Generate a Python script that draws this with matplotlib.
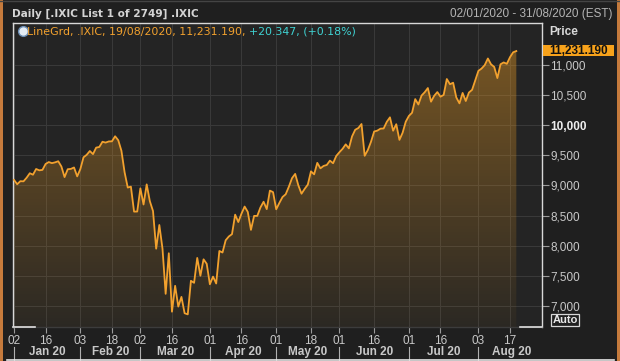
import numpy as np
import pandas as pd
import matplotlib
matplotlib.use("Agg")
import matplotlib.pyplot as plt
import matplotlib.transforms as mtransforms
from matplotlib.lines import Line2D
from matplotlib.patches import Rectangle, Polygon

plt.rcParams["font.family"] = ["Liberation Sans", "DejaVu Sans"]

W, H = 620, 361

# NASDAQ composite, daily closes 02/01/2020 - 19/08/2020 (last one intraday)
holidays = ["2020-01-20", "2020-02-17", "2020-04-10", "2020-05-25", "2020-07-03"]
closes = [
    # Jan
    9092.19, 9020.77, 9071.47, 9068.58, 9129.24, 9203.43, 9178.86, 9273.93, 9251.33, 9258.70,
    9357.13, 9388.94, 9370.81, 9383.77, 9402.48, 9314.91, 9139.31, 9269.68, 9275.16, 9298.93,
    9150.94,
    # Feb
    9273.40, 9467.97, 9508.68, 9572.15, 9520.51, 9628.39, 9638.94, 9725.96, 9711.97, 9731.18,
    9732.74, 9817.18, 9750.97, 9576.59, 9221.28, 8965.61, 8980.78, 8566.48, 8567.37,
    # Mar
    8952.17, 8684.09, 9018.09, 8738.60, 8575.62, 7950.68, 8344.25, 7952.05, 7201.80, 7874.88,
    6904.59, 7334.78, 6989.84, 7150.58, 6879.52, 6860.67, 7417.86, 7384.30, 7797.54, 7502.38,
    7774.15, 7700.10,
    # Apr
    7360.58, 7487.31, 7373.08, 7913.24, 7887.26, 8090.90, 8153.58, 8192.42, 8515.74, 8393.18,
    8532.36, 8650.14, 8560.73, 8263.23, 8495.38, 8494.75, 8634.52, 8730.16, 8607.73, 8914.71,
    8889.55,
    # May
    8604.95, 8710.71, 8809.12, 8854.39, 8979.66, 9121.32, 9192.34, 9002.55, 8863.17, 8943.72,
    9014.56, 9234.83, 9185.10, 9375.78, 9284.88, 9324.59, 9340.22, 9412.36, 9368.99, 9489.87,
    # Jun
    9552.05, 9608.38, 9682.91, 9615.81, 9814.08, 9924.75, 9953.75, 10020.35, 9492.73, 9588.81,
    9726.02, 9895.87, 9910.53, 9943.05, 9946.12, 10056.48, 10131.37, 9909.17, 10017.00, 9757.22,
    9874.15, 10058.77,
    # Jul
    10154.63, 10207.63, 10433.65, 10343.89, 10492.50, 10547.75, 10617.44, 10390.84, 10488.58, 10550.49,
    10473.83, 10503.19, 10767.09, 10680.36, 10706.13, 10461.42, 10363.18, 10536.27, 10402.09, 10542.94,
    10587.81, 10745.27,
    # Aug
    10902.80, 10941.17, 10998.40, 11108.07, 11010.98, 10968.36, 10782.82, 11012.24, 11042.50, 11019.30,
    11129.73, 11210.84, 11231.19,
]

tick_dates = ["2020-01-02", "2020-01-16", "2020-02-03", "2020-02-18", "2020-03-02", "2020-03-16",
              "2020-04-01", "2020-04-16", "2020-05-01", "2020-05-18", "2020-06-01", "2020-06-16",
              "2020-07-01", "2020-07-16", "2020-08-03", "2020-08-17"]
month_starts = ["2020-01-02", "2020-02-03", "2020-03-02", "2020-04-01", "2020-05-01",
                "2020-06-01", "2020-07-01", "2020-08-03", "2020-09-01"]
month_labels = ["Jan 20", "Feb 20", "Mar 20", "Apr 20", "May 20", "Jun 20", "Jul 20", "Aug 20"]
price_ticks = [7000, 7500, 8000, 8500, 9000, 9500, 10000, 10500, 11000]

BG = "#1f1f1f"
AX_BG = "#242424"
GRID = "#3a3a3a"
ORANGE = "#f2a12e"
CYAN = "#3fd2d2"
TXT = "#c8c8c8"
WIDE = ["DejaVu Sans"]

# trading-day axis
days = pd.bdate_range("2020-01-02", "2020-09-01")
days = days[~days.isin(pd.to_datetime(holidays))]
pos = {d.strftime("%Y-%m-%d"): i for i, d in enumerate(days)}
x = np.arange(len(closes))


def fx(px):
    return px / W


def fy(py):
    return 1 - py / H


fig = plt.figure(figsize=(W / 100, H / 100), dpi=100, facecolor=BG)
ax = fig.add_axes([fx(13), fy(327), (542 - 13) / W, (327 - 23) / H])
ax.set_facecolor(AX_BG)

x0, x1 = -0.32, 167.13
y0, y1 = 6651, 11697
ax.set_xlim(x0, x1)
ax.set_ylim(y0, y1)

# gradient fill under the line
grad = np.linspace(0, 1, 256)
rgba = np.zeros((256, 1, 4))
rgba[:, 0, 0], rgba[:, 0, 1], rgba[:, 0, 2] = 0.94, 0.62, 0.14
rgba[:, 0, 3] = 0.04 + 0.40 * grad
im = ax.imshow(rgba, extent=[x0, x1, y0, y1], origin="lower", aspect="auto",
               interpolation="bilinear", zorder=1)
verts = [(x[0], y0)] + list(zip(x, closes)) + [(x[-1], y0)]
clip = Polygon(verts, closed=True, facecolor="none", edgecolor="none")
ax.add_patch(clip)
im.set_clip_path(clip)

ax.plot(x, closes, color=ORANGE, lw=1.3, zorder=3)

# grid
xt = [pos[d] for d in tick_dates]
ax.set_xticks(xt)
ax.set_xticklabels([d[-2:] for d in tick_dates])
ax.set_yticks(price_ticks)
ax.set_yticklabels([f"{v:,}" for v in price_ticks])
ax.grid(True, color=GRID, lw=0.7, zorder=0)
ax.set_axisbelow(True)

ax.yaxis.tick_right()
ax.tick_params(axis="y", direction="out", length=5, width=0.8, color="#9a9a9a",
               labelcolor=TXT, labelsize=8.5, pad=1)
ax.tick_params(axis="x", direction="out", length=4, width=0.8, color="#9a9a9a",
               labelcolor=TXT, labelsize=8.5, pad=2)
for lab in ax.get_yticklabels():
    if lab.get_text() == "10,000":
        lab.set_fontweight("bold")
        lab.set_color("#eeeeee")

for side in ["left", "right", "top"]:
    ax.spines[side].set_color("#d8d8d8")
    ax.spines[side].set_linewidth(1)
ax.spines["bottom"].set_color("#3c3c3c")
ax.spines["bottom"].set_linewidth(1)
for seg in [(0, 22 / 529), (1 - 22 / 529, 1)]:
    ax.add_line(Line2D(seg, [0, 0], transform=ax.transAxes, color="#e0e0e0",
                       lw=1.2, clip_on=False, zorder=5))

# month labels and separators below the date ticks
btrans = mtransforms.blended_transform_factory(ax.transData, fig.transFigure)
for i, lab in enumerate(month_labels):
    a, b = pos[month_starts[i]], pos[month_starts[i + 1]]
    ax.add_line(Line2D([a, a], [fy(347), fy(361)], transform=btrans, color="#b0b0b0",
                       lw=0.8, clip_on=False))
    ax.text((a + b) / 2, fy(352), lab, transform=btrans, ha="center", va="center",
            fontsize=8.5, fontweight="bold", color=TXT, clip_on=False)

# header
fig.text(fx(12), fy(14), "Daily [.IXIC List 1 of 2749] .IXIC", fontsize=7.6,
         fontweight="bold", color="#d4d4d4", va="center", family=WIDE)
fig.text(fx(612), fy(14), "02/01/2020 - 31/08/2020 (EST)", fontsize=8.5,
         color="#b4b4b4", va="center", ha="right")

# legend line inside the chart
fig.add_artist(Line2D([fx(23)], [fy(31)], marker="o", markersize=7,
                      markerfacecolor="#e4ecf4", markeredgecolor="#6d8fb5",
                      transform=fig.transFigure))
t1 = fig.text(fx(27), fy(32), "LineGrd, .IXIC, 19/08/2020, 11,231.190, ",
              fontsize=7.9, color=ORANGE, va="center", family=WIDE)
fig.canvas.draw()
bb = t1.get_window_extent()
fig.text(bb.x1 / W, fy(32), "+20.347, (+0.18%)", fontsize=7.9, color=CYAN,
         va="center", family=WIDE)

# right hand labels
fig.text(fx(549), fy(32), "Price", fontsize=8.5, fontweight="bold",
         color="#d8d8d8", va="center")
fig.add_artist(Rectangle((fx(543), fy(56)), (614 - 543) / W, 11 / H,
                         transform=fig.transFigure, facecolor="#f7a21b",
                         edgecolor="none"))
fig.text(fx(578.5), fy(50.5), "11,231.190", fontsize=8.5, fontweight="bold",
         color="#111111", va="center", ha="center")
fig.text(fx(565), fy(320), "Auto", fontsize=8, fontweight="bold", color="#e8e8e8",
         va="center", ha="center",
         bbox=dict(boxstyle="square,pad=0.1", facecolor="none", edgecolor="#d8d8d8", lw=0.9))

# frame
fig.add_artist(Rectangle((0, 0), 3 / W, 1, transform=fig.transFigure,
                         facecolor="#c57a3c", edgecolor="none"))
fig.add_artist(Rectangle((fx(617), 0), 3 / W, 1, transform=fig.transFigure,
                         facecolor="#c57a3c", edgecolor="none"))
fig.add_artist(Line2D([fx(7), fx(614)], [fy(360), fy(360)], transform=fig.transFigure,
                      color="#e8e8e8", lw=1.2))
fig.add_artist(Line2D([0, 1], [fy(0.5), fy(0.5)], transform=fig.transFigure,
                      color="#444444", lw=1))

fig.savefig("out.png", dpi=100, facecolor=BG)
